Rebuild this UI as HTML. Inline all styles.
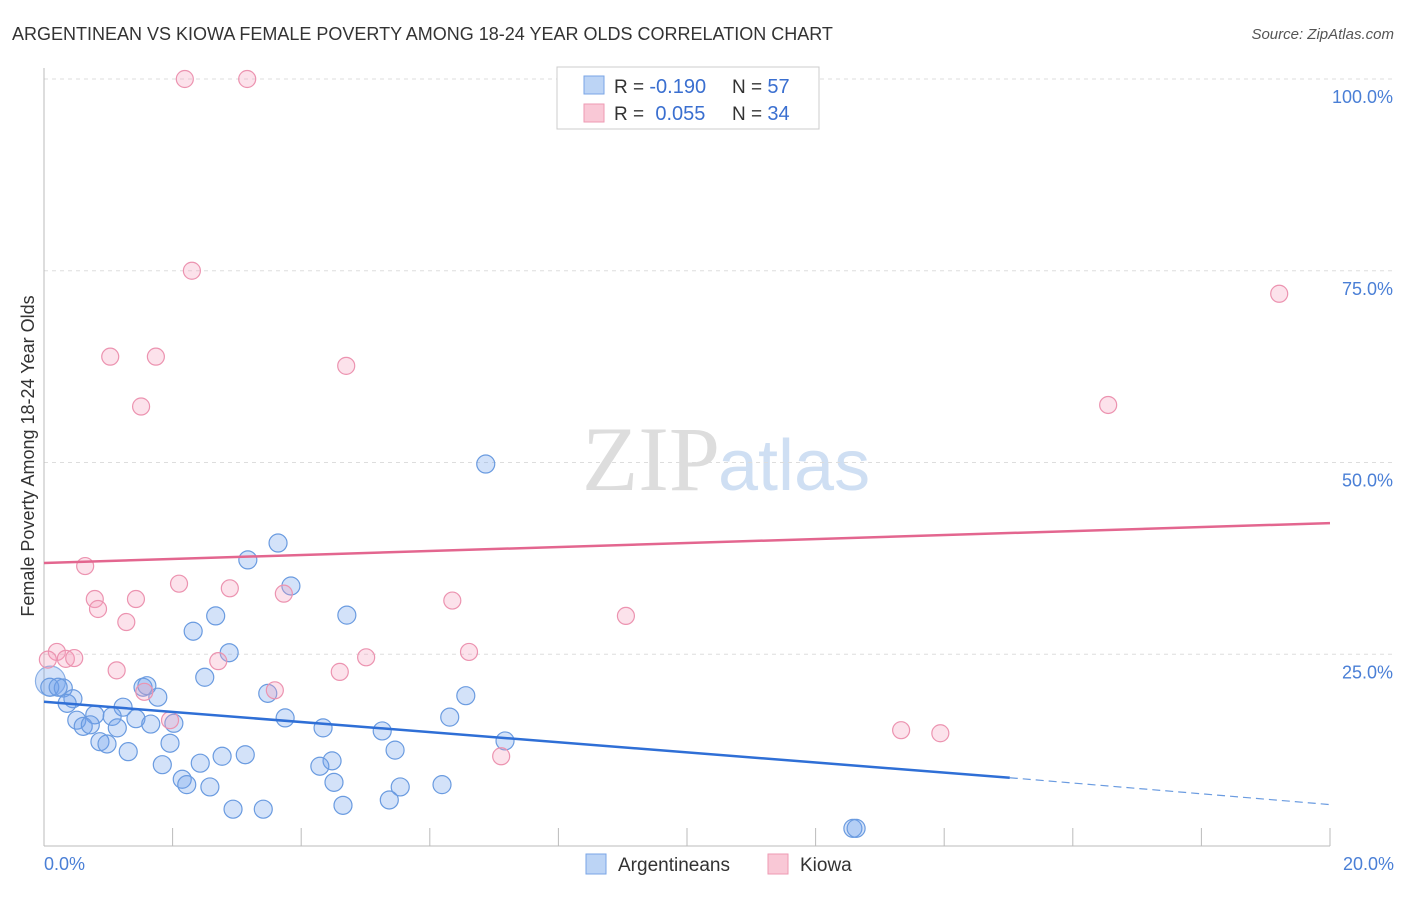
<!DOCTYPE html>
<html><head><meta charset="utf-8"><style>
body{margin:0;background:#fff;font-family:"Liberation Sans",sans-serif}
</style></head><body>
<svg width="1406" height="892" xmlns="http://www.w3.org/2000/svg" font-family="Liberation Sans, sans-serif">
<text x="12" y="40" font-size="18" fill="#333">ARGENTINEAN VS KIOWA FEMALE POVERTY AMONG 18-24 YEAR OLDS CORRELATION CHART</text>
<text x="1394" y="39" font-size="15" fill="#555" font-style="italic" text-anchor="end">Source: ZipAtlas.com</text>
<text x="720" y="490" font-size="92" fill="#ddd" text-anchor="end" font-family="Liberation Serif, serif">ZIP</text>
<text x="718" y="490" font-size="72" fill="#cfdff3">atlas</text>
<g id="grid"></g>
<line x1="44" y1="68" x2="44" y2="846" stroke="#bbb"/>
<line x1="44" y1="846" x2="1330" y2="846" stroke="#bbb"/>
<g id="ticks"></g>
<text transform="translate(34,456) rotate(-90)" font-size="18" fill="#333" text-anchor="middle">Female Poverty Among 18-24 Year Olds</text>
<text x="44" y="870" font-size="18" fill="#4a7fd6">0.0%</text>
<text x="1394" y="870" font-size="18" fill="#4a7fd6" text-anchor="end">20.0%</text>
<g id="pts"></g>
<g id="lines"></g>
<g>
<rect x="557" y="67" width="262" height="62" fill="#fff" stroke="#ccc"/>
<rect x="584" y="76" width="20" height="18" fill="#bcd4f5" stroke="#7aa5e6"/>
<rect x="584" y="104" width="20" height="18" fill="#f9c8d6" stroke="#ee9ab3"/>
<text x="614" y="93" font-size="19" fill="#333">R = <tspan fill="#3a6fd0" font-size="20">-0.190</tspan><tspan x="732">N = </tspan><tspan fill="#3a6fd0" font-size="20">57</tspan></text>
<text x="614" y="120" font-size="19" fill="#333">R = <tspan fill="#3a6fd0" dx="6" font-size="20">0.055</tspan><tspan x="732">N = </tspan><tspan fill="#3a6fd0" font-size="20">34</tspan></text>
</g>
<g>
<rect x="586" y="854" width="20" height="20" fill="#bcd4f5" stroke="#7aa5e6"/>
<text x="618" y="871" font-size="19" fill="#333">Argentineans</text>
<rect x="768" y="854" width="20" height="20" fill="#f9c8d6" stroke="#ee9ab3"/>
<text x="800" y="871" font-size="19" fill="#333">Kiowa</text>
</g>
</svg>
<script>
const yTicks=[25,50,75,100];
const xTicks=[2,4,6,8,10,12,14,16,18,20];
const blueX=[3.64,3.17,3.84,4.71,2.67,2.32,2.88,2.50,0.09,0.30,1.54,1.60,1.77,3.48,0.45,0.36,6.56,1.23,6.31,0.51,0.79,1.06,0.61,0.72,1.14,1.43,1.66,2.02,3.75,4.34,5.26,7.17,0.87,0.98,1.31,1.96,5.46,2.77,3.13,2.43,4.48,4.29,1.84,4.51,2.15,2.22,2.58,5.54,6.19,4.65,5.37,2.94,3.41,6.87,12.58,12.63,0.22];
const blueY=[39.5,37.3,33.9,30.1,30.0,28.0,25.2,22.0,20.7,20.6,20.7,20.9,19.4,19.9,19.2,18.6,19.6,18.1,16.8,16.4,17.1,16.9,15.6,15.8,15.4,16.6,15.9,16.0,16.7,15.4,15.0,13.7,13.6,13.3,12.3,13.4,12.5,11.7,11.9,10.8,11.1,10.4,10.6,8.3,8.7,8.0,7.7,7.7,8.0,5.3,6.0,4.8,4.8,49.8,2.3,2.3,20.7];
const pinkX=[2.19,3.16,2.30,1.03,1.74,4.70,1.51,19.21,16.55,0.64,0.79,0.84,1.43,2.10,2.89,3.73,1.28,6.35,9.05,0.20,0.34,0.47,0.06,1.13,2.71,5.01,6.61,1.56,3.59,4.60,1.96,7.11,13.33,13.94];
const pinkY=[100,100,75.0,63.8,63.8,62.6,57.3,72.0,57.5,36.5,32.2,30.9,32.2,34.2,33.6,32.9,29.2,32.0,30.0,25.3,24.4,24.5,24.3,22.9,24.1,24.6,25.3,20.1,20.3,22.7,16.4,11.7,15.1,14.7];
const pinkLine=[36.9,42.1];
const blueLine=[18.8,8.9,5.4];
const blueSolidEnd=15.02;
const NS='http://www.w3.org/2000/svg';
const xs=v=>44+v/20*1286, ys=v=>846-v/100*767;
function mk(tag,attrs,parent){const e=document.createElementNS(NS,tag);for(const k in attrs)e.setAttribute(k,attrs[k]);document.getElementById(parent).appendChild(e);return e;}
yTicks.forEach(t=>{
 const l=mk('line',{x1:44,x2:1394,y1:ys(t),y2:ys(t),stroke:'#ddd','stroke-dasharray':'4,4'},'grid');
 
 
 const tx=mk('text',{x:1393,y:ys(t)+24,'font-size':18,fill:'#4a7fd6','text-anchor':'end'},'grid');
 tx.textContent=t.toFixed(1)+'%';
 
 
});
xTicks.forEach(t=>{
 const l=mk('line',{x1:xs(t),x2:xs(t),y1:828,y2:846,stroke:'#bbb'},'ticks');
 
 
});
const big=mk('circle',{cx:xs(0.1),cy:ys(21.5),r:15,fill:'rgba(110,160,235,0.3)',stroke:'#8ab0e6','stroke-width':1.2},'pts');


blueY.forEach((v,i)=>{
 const c=mk('circle',{cx:xs(blueX[i]),cy:ys(v),r:9,fill:'rgba(110,160,235,0.3)',stroke:'#6a9be0','stroke-width':1.2},'pts');
 
 
});
pinkY.forEach((v,i)=>{
 const c=mk('circle',{cx:xs(pinkX[i]),cy:ys(v),r:8.5,fill:'rgba(245,160,190,0.3)',stroke:'#ec93b0','stroke-width':1.2},'pts');
 
 
});
let l=mk('line',{x1:xs(0),y1:ys(pinkLine[0]),x2:xs(20),y2:ys(pinkLine[1]),stroke:'#e3668f','stroke-width':2.5},'lines');


l=mk('line',{x1:xs(0),y1:ys(blueLine[0]),x2:xs(blueSolidEnd),y2:ys(blueLine[1]),stroke:'#2f6fd6','stroke-width':2.5},'lines');


l=mk('line',{x1:xs(blueSolidEnd),y1:ys(blueLine[1]),x2:xs(20),y2:ys(blueLine[2]),stroke:'#6a9be0','stroke-width':1.2,'stroke-dasharray':'8,5'},'lines');


</script>
</body></html>
